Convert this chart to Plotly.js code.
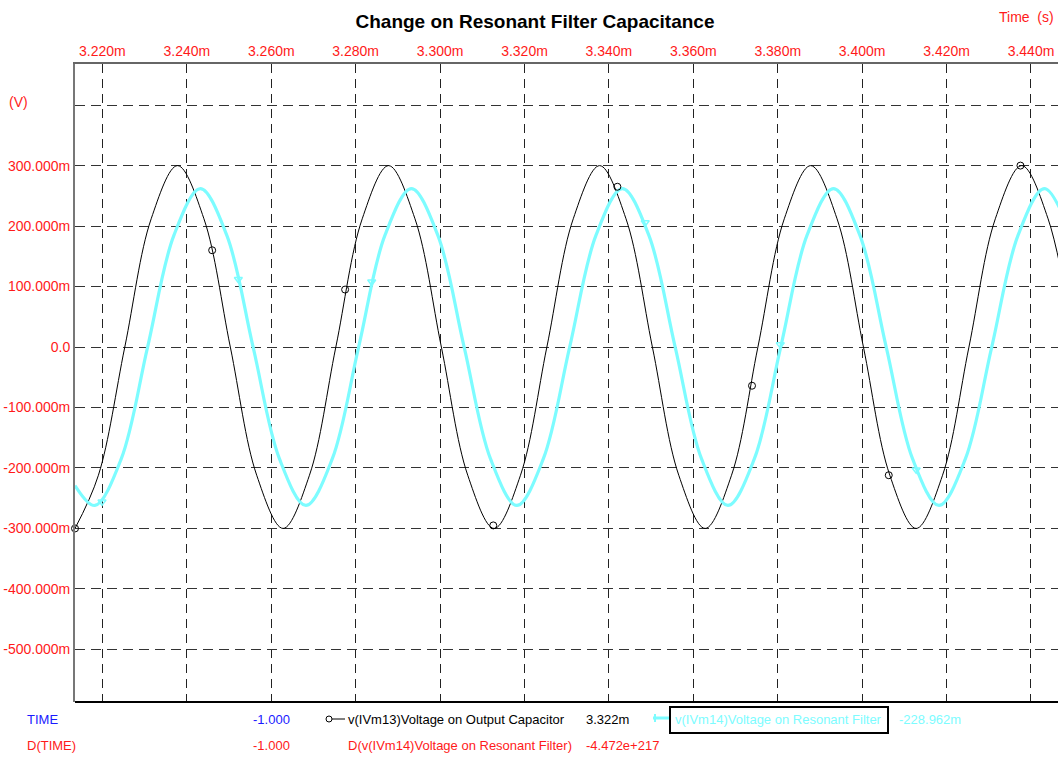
<!DOCTYPE html>
<html>
<head>
<meta charset="utf-8">
<script src="https://cdn.plot.ly/plotly-3.0.1.min.js"></script>
<style>html,body{margin:0;padding:0;background:#fff;}#chart{width:1058px;height:758px;}</style>
</head>
<body>
<div id="chart"></div>
<script>
// Time in ms, voltage in V
var blackTime = [3.2135,3.21905,3.2253,3.23155,3.2378,3.24405,3.2503,3.25655,3.2628,3.26905,3.2753,3.28155,3.2878,3.29405,3.3003,3.30655,3.3128,3.31905,3.3253,3.33155,3.3378,3.34405,3.3503,3.35655,3.3628,3.36905,3.3753,3.38155,3.3878,3.39405,3.4003,3.40655,3.4128,3.41905,3.4253,3.43155,3.4378,3.44405,3.4503];
var blackVolt = [-0.300,-0.212,0.000,0.212,0.300,0.212,0.000,-0.212,-0.300,-0.212,0.000,0.212,0.300,0.212,0.000,-0.212,-0.300,-0.212,0.000,0.212,0.300,0.212,0.000,-0.212,-0.300,-0.212,0.000,0.212,0.300,0.212,0.000,-0.212,-0.300,-0.212,0.000,0.212,0.300,0.212,0.000];
var cyanTime = [3.2135,3.2182,3.22445,3.2307,3.23695,3.2432,3.24945,3.2557,3.26195,3.2682,3.27445,3.2807,3.28695,3.2932,3.29945,3.3057,3.31195,3.3182,3.32445,3.3307,3.33695,3.3432,3.34945,3.3557,3.36195,3.3682,3.37445,3.3807,3.38695,3.3932,3.39945,3.4057,3.41195,3.4182,3.42445,3.4307,3.43695,3.4432,3.44945];
var cyanVolt = [-0.229,-0.262,-0.185,0.000,0.185,0.262,0.185,0.000,-0.185,-0.262,-0.185,0.000,0.185,0.262,0.185,0.000,-0.185,-0.262,-0.185,0.000,0.185,0.262,0.185,0.000,-0.185,-0.262,-0.185,0.000,0.185,0.262,0.185,0.000,-0.185,-0.262,-0.185,0.000,0.185,0.262,0.185];
var blackMarkTime = [3.2135,3.2460,3.2775,3.3126,3.3420,3.3739,3.4063,3.4375];
var blackMarkVolt = [-0.300,0.160,0.095,-0.295,0.265,-0.064,-0.212,0.300];
var cyanMarkTime = [3.2199,3.2522,3.2838,3.3486,3.3806,3.4128];
var cyanMarkVolt = [-0.256,0.112,0.108,0.206,0.004,-0.203];
var xTickVals = [3.22,3.24,3.26,3.28,3.30,3.32,3.34,3.36,3.38,3.40,3.42,3.44];
var xTickLabels = ["3.220m","3.240m","3.260m","3.280m","3.300m","3.320m","3.340m","3.360m","3.380m","3.400m","3.420m","3.440m"];
var yTickVals = [0.4,0.3,0.2,0.1,0.0,-0.1,-0.2,-0.3,-0.4,-0.5];
var yTickLabels = ["","300.000m","200.000m","100.000m","0.0","-100.000m","-200.000m","-300.000m","-400.000m","-500.000m"];

var FONT = "'Liberation Sans', Arial, sans-serif";
var RED = "#ff1a1a", BLUE = "#1a1aff", CYAN = "#7dfcff";

// pixel helpers for paper coords (plot area: x 75..1058, y 64..702)
function px(x){ return (x-75)/983; }
function py(y){ return (702-y)/638; }

var traces = [
  {x: blackTime, y: blackVolt, mode:'lines', line:{color:'#000000', width:1, shape:'spline'}, hoverinfo:'skip'},
  {x: cyanTime, y: cyanVolt, mode:'lines', line:{color:CYAN, width:3.2, shape:'spline'}, hoverinfo:'skip'},
  {x: blackMarkTime, y: blackMarkVolt, mode:'markers', cliponaxis:false, marker:{symbol:'circle-open', size:7, color:'#000000', line:{width:1, color:'#000000'}}, hoverinfo:'skip'},
  {x: cyanMarkTime, y: cyanMarkVolt, mode:'markers', cliponaxis:false, marker:{symbol:'triangle-down-open', size:7, color:CYAN, line:{width:1.5, color:CYAN}}, hoverinfo:'skip'}
];

function ann(text, x, y, color, xanchor){
  return {text:text, x:px(x), y:py(y), xref:'paper', yref:'paper', xanchor:xanchor||'left', yanchor:'middle', showarrow:false, font:{family:FONT, size:13, color:color}};
}

var layout = {
  width:1058, height:758,
  margin:{l:75, r:0, t:64, b:56, pad:0},
  paper_bgcolor:'#ffffff', plot_bgcolor:'#ffffff',
  showlegend:false,
  title:{text:'Change on Resonant Filter Capacitance', xref:'container', yref:'container', x:535/1058, y:1-21/758, xanchor:'center', yanchor:'middle', font:{family:FONT, size:19, color:'#000000', weight:'bold'}},
  xaxis:{range:[3.2135,3.4464], side:'top', tickvals:xTickVals, ticktext:xTickLabels, ticks:'', showgrid:true, gridcolor:'#222222', griddash:'9px,6px', gridwidth:1, zeroline:false, showline:true, linecolor:'#666666', linewidth:2, tickfont:{family:FONT, size:14, color:RED}, fixedrange:true},
  yaxis:{range:[-0.587,0.468], tickvals:yTickVals, ticktext:yTickLabels, ticks:'', showgrid:true, gridcolor:'#333333', griddash:'10px,6px', gridwidth:1, zeroline:false, showline:true, linecolor:'#777777', linewidth:2, tickfont:{family:FONT, size:14, color:RED}, fixedrange:true},
  shapes:[
    {type:'line', xref:'paper', yref:'paper', x0:0, x1:1, y0:0, y1:0, line:{color:'#000000', width:2}},
    {type:'line', xref:'paper', yref:'paper', x0:px(332), x1:px(345), y0:py(719), y1:py(719), line:{color:'#000000', width:1}},
    {type:'circle', xref:'paper', yref:'paper', x0:px(326), x1:px(332), y0:py(716), y1:py(722), line:{color:'#000000', width:1}},
    {type:'line', xref:'paper', yref:'paper', x0:px(653), x1:px(670), y0:py(718), y1:py(718), line:{color:CYAN, width:3}},
    {type:'line', xref:'paper', yref:'paper', x0:px(655), x1:px(655), y0:py(714), y1:py(722), line:{color:CYAN, width:2}},
    {type:'rect', xref:'paper', yref:'paper', x0:px(670), x1:px(888), y0:py(707), y1:py(733), line:{color:'#000000', width:2}}
  ],
  annotations:[
    {text:'(V)', x:px(18), y:py(102), xref:'paper', yref:'paper', xanchor:'center', yanchor:'middle', showarrow:false, font:{family:FONT, size:14, color:RED}},
    {text:'Time  (s)', x:px(1026), y:py(17), xref:'paper', yref:'paper', xanchor:'center', yanchor:'middle', showarrow:false, font:{family:FONT, size:14, color:RED}},
    ann('TIME', 25, 719, BLUE),
    ann('-1.000', 292, 719, BLUE, 'right'),
    ann('v(IVm13)Voltage on Output Capacitor', 346, 719, '#000000'),
    ann('3.322m', 584, 719, '#000000'),
    ann('v(IVm14)Voltage on Resonant Filter', 673, 719, CYAN),
    ann('-228.962m', 897, 719, CYAN),
    ann('D(TIME)', 25, 745, RED),
    ann('-1.000', 292, 745, RED, 'right'),
    ann('D(v(IVm14)Voltage on Resonant Filter)', 346, 745, RED),
    ann('-4.472e+217', 584, 745, RED)
  ]
};

Plotly.newPlot('chart', traces, layout, {displayModeBar:false, staticPlot:true});
</script>
</body>
</html>
